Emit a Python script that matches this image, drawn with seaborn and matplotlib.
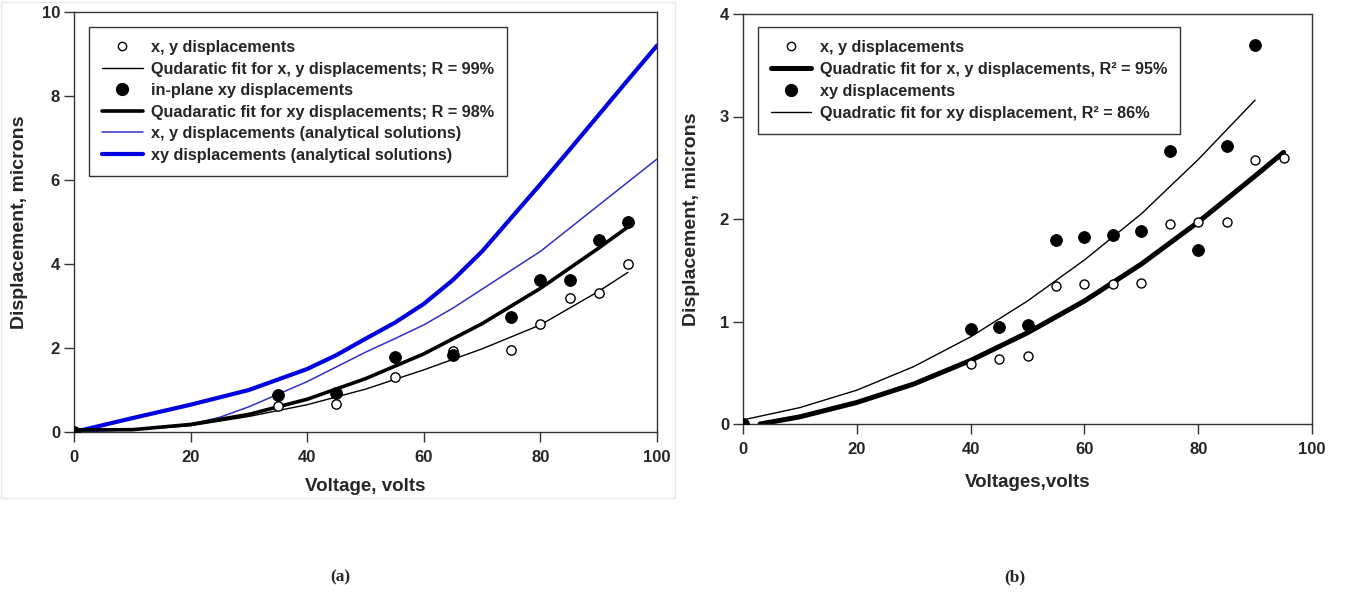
import matplotlib
matplotlib.use("Agg")
import matplotlib.pyplot as plt
import seaborn as sns
from matplotlib.lines import Line2D
from matplotlib.patches import Rectangle

# ---------------- data: panel (a) ----------------
volt_a = [0, 35, 45, 55, 65, 75, 80, 85, 90, 95]
xy_disp_a = [0, 0.63, 0.66, 1.32, 1.93, 1.96, 2.56, 3.20, 3.30, 4.00]
inplane_disp_a = [0, 0.89, 0.93, 1.78, 1.84, 2.75, 3.62, 3.63, 4.58, 5.01]

fit_x_a = [0, 10, 20, 30, 40, 50, 60, 70, 80, 90, 95]
fit_xy_thin_a = [0.03, 0.05, 0.15, 0.37, 0.65, 1.02, 1.48, 1.98, 2.55, 3.35, 3.80]
fit_inplane_a = [0.05, 0.055, 0.18, 0.42, 0.78, 1.27, 1.86, 2.58, 3.42, 4.38, 4.88]

anal_x_thin = [0, 10, 20, 25, 30, 35, 40, 45, 50, 55, 60, 65, 70, 75, 80, 85, 90, 95, 100]
anal_xy_thin = [0, 0.05, 0.18, 0.35, 0.60, 0.90, 1.20, 1.55, 1.90, 2.22, 2.55, 2.95,
                3.40, 3.85, 4.30, 4.85, 5.40, 5.95, 6.50]
anal_x_thick = [0, 10, 20, 30, 40, 45, 50, 55, 60, 65, 70, 75, 80, 85, 90, 95, 100]
anal_xy_thick = [0, 0.33, 0.65, 1.00, 1.50, 1.83, 2.22, 2.60, 3.05, 3.62, 4.30, 5.10,
                 5.90, 6.72, 7.55, 8.38, 9.20]

labels_a = ["x, y displacements",
            "Qudaratic fit for x, y displacements; R = 99%",
            "in-plane xy displacements",
            "Quadaratic fit for xy displacements; R = 98%",
            "x, y displacements (analytical solutions)",
            "xy displacements (analytical solutions)"]

# ---------------- data: panel (b) ----------------
volt_b_open = [0, 40, 45, 50, 55, 60, 65, 70, 75, 80, 85, 90, 95]
xy_disp_b = [0, 0.59, 0.63, 0.66, 1.35, 1.37, 1.37, 1.38, 1.95, 1.97, 1.97, 2.58, 2.60]
volt_b_fill = [0, 40, 45, 50, 55, 60, 65, 70, 75, 80, 85, 90]
xyd_disp_b = [0, 0.93, 0.95, 0.97, 1.80, 1.82, 1.84, 1.88, 2.66, 1.70, 2.71, 3.70]

fit_thick_x_b = [3, 10, 20, 30, 40, 50, 60, 70, 80, 90, 95]
fit_thick_b = [0, 0.07, 0.21, 0.39, 0.62, 0.89, 1.20, 1.56, 1.97, 2.42, 2.65]
fit_thin_x_b = [0, 10, 20, 30, 40, 50, 60, 70, 80, 90]
fit_thin_b = [0.04, 0.16, 0.33, 0.56, 0.85, 1.20, 1.60, 2.05, 2.58, 3.16]

labels_b = ["x, y displacements",
            "Quadratic fit for x, y displacements, R\u00b2 = 95%",
            "xy displacements",
            "Quadratic fit for xy displacement, R\u00b2 = 86%"]

# ---------------- style ----------------
sns.set_theme(style="ticks")
plt.rcParams['font.family'] = ['Liberation Sans', 'DejaVu Sans']
plt.rcParams['font.weight'] = 'bold'
plt.rcParams['axes.labelweight'] = 'bold'

BLUE_THICK = "#0000e0"
BLUE_THIN = "#3030c8"
SPINE = "#333333"

fig = plt.figure(figsize=(13.45, 5.93), dpi=100)
axA = fig.add_axes([74/1345, 1-432/593, 583/1345, 420/593])
axB = fig.add_axes([743/1345, 1-424/593, 569/1345, 410/593])

# faint frame around panel (a)
fig.add_artist(Rectangle((1/1345, 1-498/593), 674/1345, 496/593, transform=fig.transFigure,
                         fill=False, edgecolor="#e8e8e8", lw=1))

def line(ax, x, y, color, lw, z=2):
    sns.lineplot(x=x, y=y, ax=ax, color=color, linewidth=lw, estimator=None, sort=False,
                 zorder=z, legend=False)

# panel (a)
line(axA, anal_x_thick, anal_xy_thick, BLUE_THICK, 3.0)
line(axA, anal_x_thin, anal_xy_thin, BLUE_THIN, 1.1)
line(axA, fit_x_a, fit_xy_thin_a, "black", 1.0)
line(axA, fit_x_a, fit_inplane_a, "black", 2.6)
sns.scatterplot(x=volt_a, y=xy_disp_a, ax=axA, marker="o", s=45, facecolor="white",
                edgecolor="black", linewidth=1.0, zorder=4, legend=False)
sns.scatterplot(x=volt_a, y=inplane_disp_a, ax=axA, marker="o", s=72, color="black",
                edgecolor="black", zorder=5, legend=False)

# panel (b)
line(axB, fit_thick_x_b, fit_thick_b, "black", 3.6)
line(axB, fit_thin_x_b, fit_thin_b, "black", 1.0)
sns.scatterplot(x=volt_b_open, y=xy_disp_b, ax=axB, marker="o", s=42, facecolor="white",
                edgecolor="black", linewidth=1.0, zorder=4, legend=False)
sns.scatterplot(x=volt_b_fill, y=xyd_disp_b, ax=axB, marker="o", s=72, color="black",
                edgecolor="black", zorder=5, legend=False)

for ax, ymax, xl, xpad, ypad in [(axA, 10, "Voltage, volts", 9, 10),
                                 (axB, 4, "Voltages,volts", 12, 14)]:
    ax.set_xlim(0, 100)
    ax.set_ylim(0, ymax)
    ax.set_xticks([0, 20, 40, 60, 80, 100])
    ax.set_yticks(range(0, ymax + 1, 2 if ymax == 10 else 1))
    ax.tick_params(direction="out", length=7, width=1, color=SPINE, labelsize=12,
                   top=False, right=False)
    ax.tick_params(axis="x", pad=6)
    ax.tick_params(axis="y", pad=3)
    for lab in ax.get_xticklabels() + ax.get_yticklabels():
        lab.set_fontweight("bold")
    for sp in ax.spines.values():
        sp.set_visible(True)
        sp.set_color(SPINE)
        sp.set_linewidth(1.0)
    ax.set_xlabel(xl, fontsize=13.5, fontweight="bold", labelpad=xpad)
    ax.set_ylabel("Displacement, microns", fontsize=14, fontweight="bold", labelpad=ypad)

# legends
FS = 11.7
hA = [Line2D([], [], ls="none", marker="o", ms=6, mfc="white", mec="black", mew=1.0),
      Line2D([], [], color="black", lw=1.0),
      Line2D([], [], ls="none", marker="o", ms=8.5, mfc="black", mec="black"),
      Line2D([], [], color="black", lw=2.6),
      Line2D([], [], color=BLUE_THIN, lw=1.1),
      Line2D([], [], color=BLUE_THICK, lw=3.0)]
legA = axA.legend(hA, labels_a, loc="upper left", bbox_to_anchor=(0.026, 0.964),
                  frameon=True, fancybox=False, edgecolor=SPINE, framealpha=1,
                  prop={"size": FS, "weight": "bold"}, handlelength=2.5,
                  handletextpad=0.5, labelspacing=0.40, borderpad=0.8, borderaxespad=0)
legA.get_frame().set_linewidth(1.0)

hB = [Line2D([], [], ls="none", marker="o", ms=6, mfc="white", mec="black", mew=1.0),
      Line2D([], [], color="black", lw=3.6),
      Line2D([], [], ls="none", marker="o", ms=8.5, mfc="black", mec="black"),
      Line2D([], [], color="black", lw=1.0)]
legB = axB.legend(hB, labels_b, loc="upper left", bbox_to_anchor=(0.026, 0.968),
                  frameon=True, fancybox=False, edgecolor=SPINE, framealpha=1,
                  prop={"size": FS, "weight": "bold"}, handlelength=2.5,
                  handletextpad=0.5, labelspacing=0.42, borderpad=0.8, borderaxespad=0)
legB.get_frame().set_linewidth(1.0)

fig.text(340/1345, 1-577/593, "(a)", ha="center", va="center", fontsize=12.5,
         fontweight="bold", family=["Liberation Serif", "DejaVu Serif"])
fig.text(1015/1345, 1-577/593, "(b)", ha="center", va="center", fontsize=12.5,
         fontweight="bold", family=["Liberation Serif", "DejaVu Serif"])

fig.savefig("out.png", dpi=100)
